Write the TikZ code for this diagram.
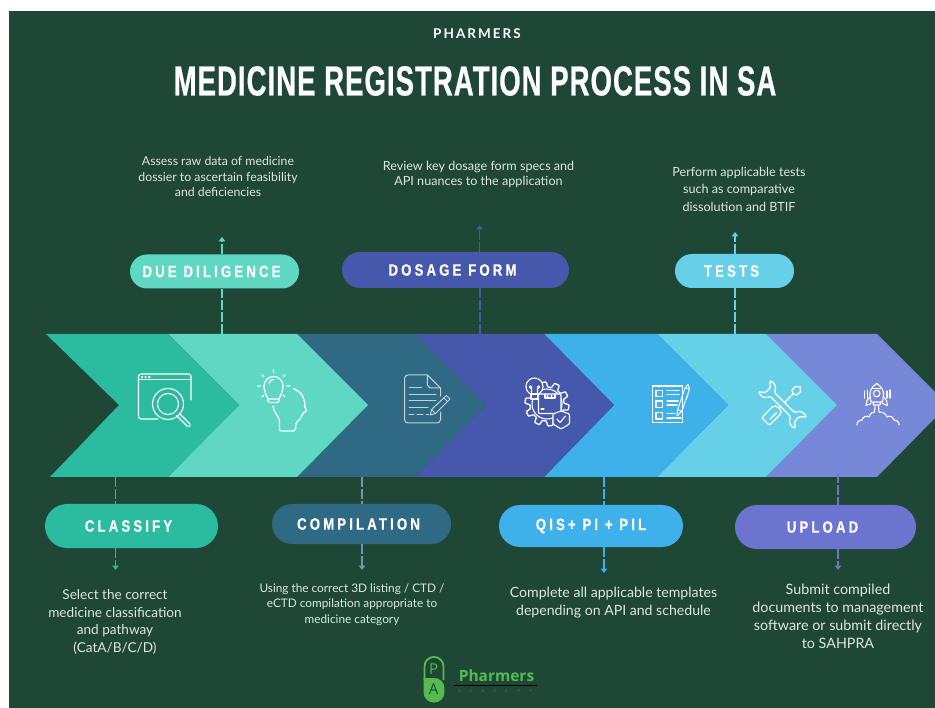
\documentclass[tikz,border=0pt]{standalone}
\usepackage{fontspec}
\usetikzlibrary{arrows.meta,shapes.misc}
\setmainfont{Lato}
\newfontfamily\titlefont{Liberation Sans}[FakeStretch=0.655,LetterSpace=2.5,FakeBold=0.6]
\newfontfamily\labelfont{Liberation Sans}[FakeStretch=0.8,LetterSpace=19,FakeBold=0.5]
\newfontfamily\brandfont{Lato}[LetterSpace=15]
\newfontfamily\logofont{Open Sans}
\newcommand\lbl[1]{#1\hspace{6pt}\null}
\definecolor{bgc}{HTML}{1E4835}
\definecolor{cA}{HTML}{2BBB9F}
\definecolor{cB}{HTML}{5FD8C3}
\definecolor{cC}{HTML}{2F6A85}
\definecolor{cD}{HTML}{4558AC}
\definecolor{cE}{HTML}{3EB0EA}
\definecolor{cF}{HTML}{66D0E8}
\definecolor{cG}{HTML}{7788D8}
\definecolor{cH}{HTML}{6B75CF}
\definecolor{bodyc}{HTML}{DCE8DF}
\definecolor{logoc}{HTML}{55BB4F}
\tikzset{
  chev/.style={fill=#1,draw=none},
  pill/.style={rounded rectangle,fill=#1,draw=none,inner sep=0pt,text=white,
    font=\labelfont\fontsize{16.5}{17}\bfseries},
  body/.style={text=bodyc,align=center,inner sep=0pt},
  dashline/.style={draw=#1,line width=1.5pt,dash pattern=on 10pt off 2pt},
  tipline/.style={draw=#1,line width=1.5pt,dash pattern=on 10pt off 2pt,-{Triangle[width=6.5pt,length=4.5pt]}},
  ico/.style={draw=white,line width=1.1pt,line cap=round,line join=round},
  icof/.style={draw=white!70!cC,line width=1pt,line cap=round,line join=round},
}
\begin{document}
\begin{tikzpicture}[x=1pt,y=-1pt]
\useasboundingbox (0,0) rectangle (935,708);
\fill[white] (0,0) rectangle (935,708);
\fill[bgc] (9,11) rectangle (935,708);
% chevrons, last first so each tip lies over the next one
\fill[chev=cG] (766,334) -- (877,334) -- (935,392) -- (935,418) -- (877,477) -- (766,477) -- (837,405) -- cycle;
\fill[chev=cF] (657,334) -- (766,334) -- (837,405) -- (766,477) -- (657,477) -- (728,405) -- cycle;
\fill[chev=cE] (544,334) -- (657,334) -- (728,405) -- (657,477) -- (544,477) -- (614,405) -- cycle;
\fill[chev=cD] (415,334) -- (544,334) -- (614,405) -- (544,477) -- (415,477) -- (486,405) -- cycle;
\fill[chev=cC] (297,334) -- (415,334) -- (486,405) -- (415,477) -- (297,477) -- (368,405) -- cycle;
\fill[chev=cB] (168,334) -- (297,334) -- (368,405) -- (297,477) -- (168,477) -- (239,405) -- cycle;
\fill[chev=cA] (46,334) -- (168,334) -- (239,405) -- (168,477) -- (50,477) -- (119,405) -- cycle;
% heading
\node[text=white,inner sep=0pt,font=\brandfont\fontsize{13.5}{15}\bfseries] (brand) at (477,34) {PHARMERS};
\node[text=white,inner sep=0pt,font=\titlefont\fontsize{42}{44}\bfseries] (title) at (475,81) {MEDICINE REGISTRATION PROCESS IN SA};
% pills
\node[pill=cB,minimum width=169pt,minimum height=34pt] (due) at (214.5,271.5) {\lbl{DUE DILIGENCE}};
\node[pill=cD,minimum width=227pt,minimum height=36pt] (dos) at (455.5,270) {\lbl{DOSAGE FORM}};
\node[pill=cF,minimum width=119pt,minimum height=34pt] (tes) at (734.5,271) {\lbl{TESTS}};
\node[pill=cA,minimum width=173pt,minimum height=44pt] (cla) at (131.5,526) {\lbl{CLASSIFY}};
\node[pill=cC,minimum width=179pt,minimum height=40pt] (com) at (361.5,524) {\lbl{COMPILATION}};
\node[pill=cE,minimum width=184pt,minimum height=42pt] (qis) at (591,526) {QIS+ PI + PIL};
\node[pill=cH,minimum width=181pt,minimum height=44pt] (upl) at (825.5,527) {\lbl{UPLOAD}};
% texts
\node[body,font=\fontsize{12.3}{15.5}\selectfont] (tdue) at (218,177) {Assess raw data of medicine\\dossier to ascertain feasibility\\and deficiencies};
\node[body,font=\fontsize{12.6}{15}\selectfont] (tdos) at (478.5,174.5) {Review key dosage form specs and\\API nuances to the application};
\node[body,font=\fontsize{12.6}{17.5}\selectfont] (ttes) at (739,189) {Perform applicable tests\\such as comparative\\dissolution and BTIF};
\node[body,font=\fontsize{13.6}{17.7}\selectfont] (tcla) at (115,622) {Select the correct\\medicine classification\\and pathway\\(CatA/B/C/D)};
\node[body,font=\fontsize{11.8}{15.5}\selectfont] (tcom) at (352,604.5) {Using the correct 3D listing / CTD /\\eCTD compilation appropriate to\\medicine category};
\node[body,font=\fontsize{14.1}{18}\selectfont] (tqis) at (613.5,603) {Complete all applicable templates\\depending on API and schedule};
\node[body,font=\fontsize{14.3}{18}\selectfont] (tupl) at (838,616) {Submit compiled\\documents to management\\software or submit directly\\to SAHPRA};
% connector ends
\coordinate (adue) at (222,334);  \coordinate (edue) at (222,237);
\coordinate (ados) at (480,334);  \coordinate (edos) at (479.5,225);
\coordinate (ates) at (735,334);  \coordinate (etes) at (735,232);
\coordinate (acla) at (115.5,477); \coordinate (ecla) at (115.5,570);
\coordinate (acom) at (362,477);  \coordinate (ecom) at (362,570);
\coordinate (aqis) at (604,477);  \coordinate (eqis) at (604,573);
\coordinate (aupl) at (838,473);  \coordinate (eupl) at (838,570);
% connectors
\draw[dashline=cB] (adue) -- (adue |- due.south);
\draw[tipline=cB] (adue |- due.north) -- (edue);
\draw[dashline=cD] (ados) -- (ados |- dos.south);
\draw[tipline=cD] (edos |- dos.north) -- (edos);
\draw[dashline=cF] (ates) -- (ates |- tes.south);
\draw[tipline=cF] (ates |- tes.north) -- (etes);
\draw[dashline=cA] (acla) -- (acla |- cla.north);
\draw[tipline=cA] (acla |- cla.south) -- (ecla);
\draw[dashline=cC!70!white] (acom) -- (acom |- com.north);
\draw[tipline=cC!70!white] (acom |- com.south) -- (ecom);
\draw[dashline=cE] (aqis) -- (aqis |- qis.north);
\draw[tipline=cE] (aqis |- qis.south) -- (eqis);
\draw[dashline=cH] (aupl) -- (aupl |- upl.north);
\draw[tipline=cH] (aupl |- upl.south) -- (eupl);
% icon: window and magnifier
\draw[ico,rounded corners=2.5pt] (158,419) -- (138.5,419) -- (138.5,374) -- (191,374) -- (191,400);
\draw[ico] (138.5,379.5) -- (191,379.5);
\draw[ico] (141.5,377) -- (142.5,377) (145,377) -- (146,377) (148.5,377) -- (150,377);
\draw[ico] (168,404) circle[radius=15.5] (168,404) circle[radius=10.5];
\draw[ico,rounded corners=1.5pt] (179,413) -- (191,425) -- (188.5,427.5) -- (176.5,415.5);
% icon: head with bulb
\draw[ico,line width=1.3pt] (268,399) .. controls (266,394) and (264,391) .. (264,386) arc[start angle=180,end angle=360,radius=9.5] .. controls (283,391) and (281,394) .. (279,399) -- cycle;
\draw[ico,line width=1.3pt,rounded corners=1.5pt] (268,399) -- (268,402.5) -- (279,402.5) -- (279,399);
\draw[ico] (269,384) .. controls (269,381) and (271,379.5) .. (273.5,379.5);
\draw[ico,line width=1.3pt] (273.5,370) -- (273.5,373) (262,375) -- (264,377) (285,375) -- (283,377) (257.5,386) -- (260.5,386) (287,386) -- (290,386) (262,397) -- (264,395) (285,397) -- (283,395);
\draw[ico,line width=1.3pt,rounded corners=2pt] plot[smooth,tension=.6] coordinates {(293.5,388.5) (301,394) (304.5,402) (304.5,408)} -- (307,410.5) -- (302,414) -- (301,419) -- (296,422) -- (295.5,431) -- (279.5,431) -- (279.5,420) .. controls (277,415) and (273.5,411) .. (273,406);
% icon: document
\draw[icof,rounded corners=3.5pt] (427.3,375) -- (404.5,375) -- (404.5,423) -- (440.5,423) -- (440.5,412);
\draw[icof] (440.5,396) -- (440.5,388) -- (427.3,375) -- (427.3,385) -- (430,388) -- (440.5,388);
\draw[icof] (409,387.5) -- (421.5,387.5) (409,394.3) -- (436,394.3) (409,401) -- (436,401) (409,407.8) -- (428,407.8) (409,414.7) -- (414,414.7) (417,414.7) -- (423,414.7) (426,414.7) -- (429,414.7);
\draw[icof,line join=round] (430.5,415) -- (431.5,409.5) -- (446.5,395.5) -- (450,399) -- (435.5,413.5) -- cycle;
\draw[icof] (431.5,409.5) -- (435.5,413.5) (444,398) -- (447.5,401.5);
% icon: gear, bulb, box, shield
\draw[ico,line width=1.3pt] plot[samples=217,domain=0:360] ({547+(19.5+2.5*max(-1,min(1,2.5*sin(10*\x))))*cos(\x)},{404+(19.5+2.5*max(-1,min(1,2.5*sin(10*\x))))*sin(\x)}) -- cycle;
\draw[ico] (547,404) circle[radius=15];
\draw[ico,fill=cD] (534.5,386.5) circle[radius=8.5];
\draw[ico,fill=cD] (531,394) rectangle (538,399);
\draw[ico] (530.5,387) circle[radius=1.2] (538.5,387) circle[radius=1.2] (531.5,388.5) -- (531.5,394) (537.5,388.5) -- (537.5,394);
\draw[ico,fill=cD,rounded corners=1pt] (538.5,394) rectangle (561,413.5);
\draw[ico] (545,394) -- (545,398) -- (555,398) -- (555,394) (547,396) -- (548,396) (551,396) -- (552,396) (541,409) -- (544,409);
\draw[ico,fill=cD,rounded corners=1pt] (553,414) -- (561,411) -- (569.5,414) -- (569.5,424) -- (561,429) -- (553,424) -- cycle;
\draw[ico] (557,419) -- (560,422.5) -- (565.5,416);
% icon: checklist
\draw[ico] (652.5,386) rectangle (682.5,422.5);
\draw[ico] (656,390.3) rectangle (662.5,396.7) (656,401) rectangle (662.5,407.5) (656,412.3) rectangle (662.5,419);
\draw[ico] (667,390.5) -- (679,390.5) (667,394.5) -- (679,394.5) (667,401) -- (678,401) (667,405) -- (677,405) (667,413.5) -- (675,413.5) (667,418) -- (681,418);
\draw[ico,white!85!cE] (677,416) -- (677.5,410) -- (685,388) -- (688,384.5) -- (689.5,389) -- (682,411) -- cycle (685,388) -- (689.5,389) (677.5,410) -- (682,411) (689,391) -- (686,400);
% icon: screwdriver and wrench
\begin{scope}[shift={(782.5,404.5)},rotate=45]
\draw[ico,line width=1.3pt,rounded corners=2pt] (-24,-5.5) -- (-7,-5.5) -- (-5,-2) -- (-5,2) -- (-7,5.5) -- (-24,5.5) -- cycle;
\draw[ico,line width=1.3pt] (-19,1.5) -- (-10,1.5);
\draw[ico,line width=1.3pt] (-5,0) -- (15,0);
\draw[ico,line width=1.3pt] (15,0) -- (17,-3.5) -- (22,-3.5) -- (25,0) -- (22,3.5) -- (17,3.5) -- cycle;
\end{scope}
\begin{scope}[shift={(782.5,404.5)},rotate=-45]
\draw[ico,line width=1.3pt,fill=cF,rounded corners=1.2pt] (-14,-2.8) -- (14,-2.8) -- (17,-7.5) -- (21,-9) -- (26,-8) -- (20.5,-3.5) -- (20.5,3.5) -- (26,8) -- (21,9) -- (17,7.5) -- (14,2.8) -- (-14,2.8) -- (-17,7.5) -- (-21,9) -- (-26,8) -- (-20.5,3.5) -- (-20.5,-3.5) -- (-26,-8) -- (-21,-9) -- (-17,-7.5) -- cycle;
\end{scope}
% icon: rocket
\draw[ico] (876.7,383.5) .. controls (871,387) and (869.5,392) .. (870,396) -- (871,402) -- (882.5,402) -- (883.5,396) .. controls (884,392) and (882.5,387) .. (876.7,383.5) -- cycle;
\draw[ico] (872,388.5) -- (881.5,388.5);
\draw[ico] (876.7,393.5) circle[radius=3.3];
\draw[ico] (870.5,397) .. controls (867,399) and (866,402) .. (866,405.5) -- (871,403.5) (883,397) .. controls (886.5,399) and (887.5,402) .. (887.5,405.5) -- (882.5,403.5);
\draw[ico] (873,402.5) -- (873.5,405) -- (880,405) -- (880.5,402.5);
\draw[ico] (875,406) -- (874.5,412) (878.5,406) -- (879,412);
\draw[ico] (864.5,391) -- (864.5,398) (867.5,390) -- (867.5,398) (887,391) -- (887,398) (890,390) -- (890,398);
\draw[ico] (857,425) .. controls (857,421) and (860,420) .. (862,420) .. controls (863,416) and (867,415.5) .. (869,417) .. controls (870,413) and (873,412) .. (874.5,412);
\draw[ico] (899,425) .. controls (899,421) and (896,420) .. (894,420) .. controls (893,416) and (889,415.5) .. (887,417) .. controls (886,413) and (882,412) .. (879,412);
% logo
\draw[logoc,line width=1.8pt,fill=bgc,rounded corners=9.5pt] (424.5,680) -- (424.5,656.9) -- (443.5,656.9) -- (443.5,680);
\fill[logoc,rounded corners=10pt] (423.6,678) -- (423.6,702.5) -- (444.4,702.5) -- (444.4,678) [sharp corners] -- cycle;
\node[text=logoc,inner sep=0pt,font=\logofont\fontsize{15}{16}\selectfont] (lp) at (433.7,669) {P};
\node[text=bgc,inner sep=0pt,font=\logofont\fontsize{15}{16}\selectfont] (la) at (433.7,689.5) {A};
\node[text=logoc,inner sep=0pt,font=\logofont\fontsize{15.5}{16}\bfseries] (lname) at (496.5,675.5) {Pharmers};
\draw[black,line width=1pt] (454,685) -- (537,685);
\node[text=gray!60!bgc,inner sep=0pt,font=\fontsize{4}{5}\selectfont] (lsub) at (495,691.5) {A\hspace{9pt}C\hspace{9pt}A\hspace{9pt}D\hspace{9pt}E\hspace{9pt}M\hspace{9pt}Y};
\end{tikzpicture}
\end{document}
